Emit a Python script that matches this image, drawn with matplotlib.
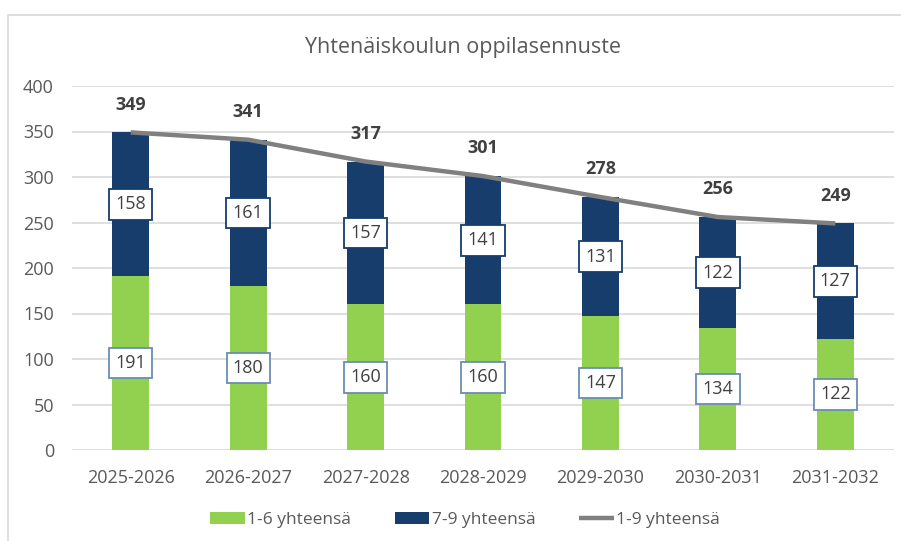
import numpy as np
import matplotlib.pyplot as plt
from matplotlib.patches import Rectangle

plt.rcParams['font.family'] = ['Open Sans', 'DejaVu Sans']

vuodet = ['2025-2026', '2026-2027', '2027-2028', '2028-2029',
          '2029-2030', '2030-2031', '2031-2032']
luokat_1_6 = [191, 180, 160, 160, 147, 134, 122]
luokat_7_9 = [158, 161, 157, 141, 131, 122, 127]
yhteensa = [349, 341, 317, 301, 278, 256, 249]

vihrea = '#92D050'
sininen = '#163D6C'
harmaa = '#808080'
teksti = '#595959'

fig = plt.figure(figsize=(9.01, 5.41), dpi=100)
# chart frame, only top and left edges show in the crop
fig.patches.append(Rectangle((8/901, -0.1), 1.1, (541-15)/541 + 0.1,
                             transform=fig.transFigure, fill=False,
                             edgecolor='#d9d9d9', linewidth=1.2))
ax = fig.add_axes([72/901, 91/541, 822/901, 364/541])

x = np.arange(len(vuodet))
leveys = 0.315
b1 = ax.bar(x, luokat_1_6, leveys, color=vihrea, label='1-6 yhteensä', zorder=2)
b2 = ax.bar(x, luokat_7_9, leveys, bottom=luokat_1_6, color=sininen,
            label='7-9 yhteensä', zorder=2)
l1, = ax.plot(x, yhteensa, color=harmaa, linewidth=3.2, label='1-9 yhteensä',
              zorder=3, solid_capstyle='butt')

for i in range(len(x)):
    ax.text(x[i], luokat_1_6[i] / 2, str(luokat_1_6[i]), ha='center', va='center',
            fontsize=13, color='#404040', zorder=4,
            bbox=dict(boxstyle='square,pad=0.35', fc='white', ec='#6A8DB3', lw=1.3))
    ax.text(x[i], luokat_1_6[i] + luokat_7_9[i] / 2, str(luokat_7_9[i]),
            ha='center', va='center', fontsize=13, color='#404040', zorder=4,
            bbox=dict(boxstyle='square,pad=0.35', fc='white', ec=sininen, lw=1.3))
    ax.annotate(str(yhteensa[i]), (x[i], yhteensa[i]), xytext=(0, 20),
                textcoords='offset points', ha='center', va='center',
                fontsize=13, fontweight='bold', color='#404040', zorder=4)

ax.set_ylim(0, 400)
ax.set_xlim(-0.5, len(x) - 0.5)
ax.set_yticks(range(0, 401, 50))
ax.set_xticks(x)
ax.set_xticklabels(vuodet)
ax.grid(axis='y', color='#d9d9d9', linewidth=1.2, zorder=0)
for s in ax.spines.values():
    s.set_visible(False)
ax.tick_params(length=0, colors=teksti, labelsize=13)
ax.tick_params(axis='y', pad=13)
ax.tick_params(axis='x', pad=14)

fig.text(463/901, 1 - 47/541, 'Yhtenäiskoulun oppilasennuste', ha='center',
         va='center', fontsize=15.5, color=teksti)

fig.legend([b1, b2, l1], ['1-6 yhteensä', '7-9 yhteensä', '1-9 yhteensä'],
           loc='center', bbox_to_anchor=(465/901, 1 - 520/541), ncol=3,
           frameon=False, fontsize=12.5, labelcolor=teksti, handlelength=2.0,
           handleheight=0.7, columnspacing=2.5, handletextpad=0.15)

plt.savefig('out.png', dpi=100)
